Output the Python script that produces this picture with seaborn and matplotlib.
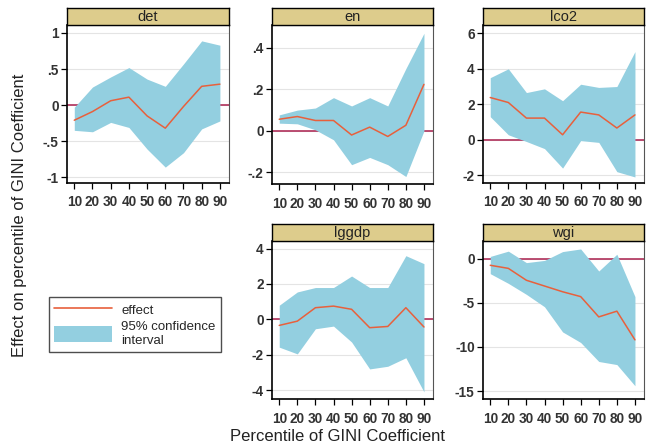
import numpy as np
import pandas as pd
import seaborn as sns
import matplotlib.pyplot as plt
from matplotlib.lines import Line2D
from matplotlib.patches import Patch

sns.set_style("white")
plt.rcParams['font.family'] = ['Liberation Sans', 'DejaVu Sans']

pct = [10, 20, 30, 40, 50, 60, 70, 80, 90]

det_eff = [-0.21, -0.09, 0.06, 0.11, -0.15, -0.32, -0.02, 0.26, 0.29]
det_hi = [-0.03, 0.25, 0.39, 0.52, 0.36, 0.26, 0.57, 0.89, 0.83]
det_lo = [-0.35, -0.37, -0.24, -0.31, -0.61, -0.86, -0.66, -0.33, -0.22]

en_eff = [0.056, 0.069, 0.05, 0.05, -0.02, 0.018, -0.027, 0.027, 0.224]
en_hi = [0.077, 0.10, 0.11, 0.16, 0.12, 0.16, 0.12, 0.30, 0.47]
en_lo = [0.037, 0.034, 0.005, -0.043, -0.163, -0.128, -0.163, -0.22, 0.0]

lco2_eff = [2.38, 2.1, 1.22, 1.22, 0.28, 1.56, 1.4, 0.66, 1.4]
lco2_hi = [3.5, 4.0, 2.66, 2.87, 2.2, 3.13, 2.95, 3.0, 4.97]
lco2_lo = [1.3, 0.28, -0.1, -0.5, -1.6, -0.05, -0.15, -1.8, -2.1]

lggdp_eff = [-0.34, -0.1, 0.66, 0.75, 0.57, -0.47, -0.4, 0.66, -0.43]
lggdp_hi = [0.8, 1.55, 1.8, 1.8, 2.45, 1.8, 1.8, 3.6, 3.15]
lggdp_lo = [-1.57, -1.95, -0.53, -0.38, -1.28, -2.8, -2.65, -2.17, -4.1]

wgi_eff = [-0.75, -1.1, -2.45, -3.1, -3.75, -4.3, -6.6, -5.95, -9.2]
wgi_hi = [0.25, 0.85, -0.45, -0.2, 0.8, 1.1, -1.4, 0.5, -4.3]
wgi_lo = [-1.7, -2.8, -4.05, -5.45, -8.3, -9.5, -11.65, -12.0, -14.4]

panels = [
    ("det", det_eff, det_lo, det_hi, [-1, -0.5, 0, 0.5, 1], ["-1", "-.5", "0", ".5", "1"], (-1.08, 1.11)),
    ("en", en_eff, en_lo, en_hi, [-0.2, 0, 0.2, 0.4], ["-.2", "0", ".2", ".4"], (-0.256, 0.51)),
    ("lco2", lco2_eff, lco2_lo, lco2_hi, [-2, 0, 2, 4, 6], ["-2", "0", "2", "4", "6"], (-2.44, 6.47)),
    ("lggdp", lggdp_eff, lggdp_lo, lggdp_hi, [-4, -2, 0, 2, 4], ["-4", "-2", "0", "2", "4"], (-4.5, 4.43)),
    ("wgi", wgi_eff, wgi_lo, wgi_hi, [-15, -10, -5, 0], ["-15", "-10", "-5", "0"], (-15.9, 2.0)),
]

# pixel boxes: left, top, right, bottom
boxes = [(67, 25, 229, 183), (272, 25, 433, 184), (483, 25, 644, 183),
         (272, 241, 433, 399), (483, 241, 644, 399)]

W, H = 649, 448
fig = plt.figure(figsize=(W / 100, H / 100), dpi=100)

line_col = "#e8603c"
fill_col = "#93cfe0"
zero_col = "#b0305a"
strip_col = "#ddcc8c"

for (name, eff, lo, hi, yt, ytl, ylim), (l, t, r, b) in zip(panels, boxes):
    ax = fig.add_axes([l / W, 1 - b / H, (r - l) / W, (b - t) / H])
    df = pd.DataFrame({"pct": pct, "effect": eff, "lo": lo, "hi": hi})
    ax.axhline(0, color=zero_col, lw=1.2, zorder=1)
    ax.fill_between(df["pct"], df["lo"], df["hi"], color=fill_col, lw=0, zorder=2)
    sns.lineplot(data=df, x="pct", y="effect", color=line_col, lw=1.1, ax=ax, zorder=3)
    ax.set_xlim(6, 95)
    ax.set_ylim(*ylim)
    ax.set_xticks(pct)
    ax.set_xticklabels([str(p) for p in pct])
    ax.set_yticks(yt)
    ax.set_yticklabels(ytl)
    ax.yaxis.grid(True, color="#e4e4e4", lw=0.8)
    ax.set_axisbelow(True)
    ax.tick_params(axis="both", direction="out", length=4, width=0.9, color="black",
                   labelsize=9.8, labelcolor="#333333", pad=2, left=True, bottom=True)
    ax.tick_params(axis="x", pad=5)
    for lab in ax.get_xticklabels() + ax.get_yticklabels():
        lab.set_fontweight("bold")
    ax.set_xlabel("")
    ax.set_ylabel("")
    for s in ["left", "bottom"]:
        ax.spines[s].set_color("black")
        ax.spines[s].set_linewidth(1.2)
    for s in ["top", "right"]:
        ax.spines[s].set_color("#555555")
        ax.spines[s].set_linewidth(0.8)
    # strip header
    sax = fig.add_axes([l / W, 1 - t / H, (r - l) / W, 17 / H])
    sax.set_facecolor(strip_col)
    sax.set_xticks([])
    sax.set_yticks([])
    for s in sax.spines.values():
        s.set_color("black")
        s.set_linewidth(1.0)
    sax.text(0.5, 0.45, name, ha="center", va="center", fontsize=10.5, color="#222222",
             transform=sax.transAxes)

fig.text(20 / W, 1 - 215 / H, "Effect on percentile of GINI Coefficient", rotation=90,
         ha="center", va="center", fontsize=12, color="#222222")
fig.text(337 / W, 1 - 436 / H, "Percentile of GINI Coefficient",
         ha="center", va="center", fontsize=12, color="#222222")

handles = [Line2D([0], [0], color=line_col, lw=1.2),
           Patch(facecolor=fill_col, edgecolor="none")]
leg = fig.legend(handles, ["effect", "95% confidence\ninterval"],
                 loc="upper left", bbox_to_anchor=(42 / W, 1 - 290 / H),
                 frameon=True, fancybox=False, fontsize=9.5, handlelength=4.4,
                 handleheight=1.4, labelspacing=0.3, borderpad=0.4, handletextpad=0.7)
leg.get_frame().set_edgecolor("#222222")
leg.get_frame().set_linewidth(1.0)

fig.savefig("out.png", dpi=100)
